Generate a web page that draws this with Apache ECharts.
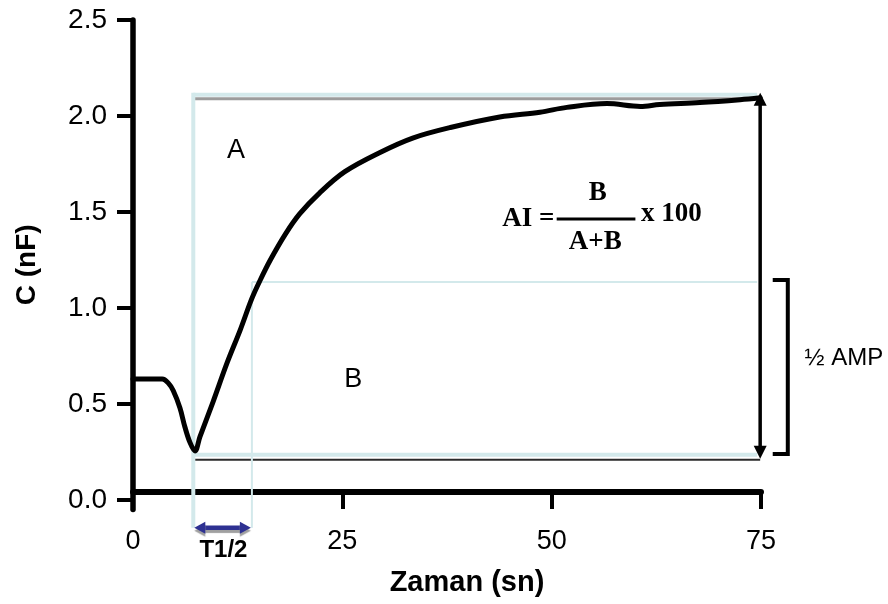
<!DOCTYPE html>
<html>
<head>
<meta charset="utf-8">
<script src="https://cdn.jsdelivr.net/npm/echarts@6/dist/echarts.min.js"></script>
<style>
html,body{margin:0;padding:0;background:#fff;}
#c{width:888px;height:604px;}
</style>
</head>
<body>
<div id="c"></div>
<script>
// ---- data ----
const timeSec = [0, 3.5, 4.2, 4.8, 5.6, 6.2, 6.8, 7.4, 8.0, 9.55, 11.2, 12.8, 14.2, 15.2, 16.4, 18.2, 19.9, 22.3, 25.3, 29.5, 33.4, 37.9, 43.8, 48.6, 51.8, 56.6, 60.6, 62.9, 67.7, 72.5, 74.9];
const capacitanceNF = [0.63, 0.63, 0.61, 0.57, 0.48, 0.38, 0.30, 0.255, 0.33, 0.51, 0.71, 0.885, 1.05, 1.146, 1.25, 1.385, 1.49, 1.60, 1.71, 1.81, 1.885, 1.94, 1.995, 2.02, 2.045, 2.065, 2.05, 2.06, 2.07, 2.085, 2.095];
const xTickValues = [0, 25, 50, 75];
const yTickValues = [0, 0.5, 1.0, 1.5, 2.0, 2.5];
const yTickLabels = ['0.0', '0.5', '1.0', '1.5', '2.0', '2.5'];

// annotation levels (data units)
const plateauNF = 2.09;
const baselineNF = 0.21;
const halfAmpNF = 1.135;
const tRiseStart = 7.2;
const tHalf = 14.2;
const tEnd = 74.9;
const arrowLevelNF = -0.145;
const bracketT = [76.4, 78.2];
const bracketNF = [1.146, 0.24];

const FONT = '"Liberation Sans", Arial, sans-serif';
const SERIF = '"Liberation Serif", "Times New Roman", serif';
const LB = '#d3e9eb';

const chart = echarts.init(document.getElementById('c'));
chart.setOption({
  animation: false,
  backgroundColor: '#fff',
  grid: { left: 133, right: 127, top: 20, bottom: 94.4, containLabel: false },
  xAxis: {
    type: 'value', min: 0, max: 75, interval: 25,
    offset: -17.6,
    axisLine: { onZero: false, lineStyle: { color: '#000', width: 6 } },
    axisTick: { length: 17, lineStyle: { color: '#000', width: 4 } },
    axisLabel: { margin: 36, fontSize: 27, color: '#000', fontFamily: FONT,
      formatter: v => xTickValues.includes(v) ? String(v) : '' },
    splitLine: { show: false },
    name: 'Zaman (sn)', nameLocation: 'middle', nameGap: 76,
    nameTextStyle: { fontSize: 29, fontWeight: 'bold', color: '#000', fontFamily: FONT, padding: [0, 0, 0, 40] }
  },
  yAxis: {
    type: 'value', min: -0.05, max: 2.5,
    axisLine: { show: true, onZero: false, lineStyle: { color: '#000', width: 5.5 } },
    axisTick: { show: true, length: 16, customValues: yTickValues, lineStyle: { color: '#000', width: 4 } },
    axisLabel: { show: true, customValues: yTickValues, margin: 26, fontSize: 28, color: '#000', fontFamily: FONT,
      formatter: v => { const i = yTickValues.findIndex(t => Math.abs(t - v) < 1e-6); return i >= 0 ? yTickLabels[i] : ''; } },
    splitLine: { show: false },
    name: 'C (nF)', nameLocation: 'middle', nameRotate: 90, nameGap: 92,
    nameTextStyle: { fontSize: 28, fontWeight: 'bold', color: '#000', fontFamily: FONT }
  },
  series: [{
    type: 'line',
    data: timeSec.map((t, i) => [t, capacitanceNF[i]]),
    showSymbol: false,
    smooth: 0.35,
    z: 5,
    lineStyle: { color: '#000', width: 5, join: 'round', cap: 'round' }
  }]
});

function P(t, v) { return chart.convertToPixel({ gridIndex: 0 }, [t, v]); }
function X(t) { return P(t, 0)[0]; }
function Y(v) { return P(0, v)[1]; }

const xs = X(tRiseStart), xh = X(tHalf), xe = X(tEnd);
const yp = Y(plateauNF), yb = Y(baselineNF), yh = Y(halfAmpNF), ya = Y(arrowLevelNF);

function line(x1, y1, x2, y2, color, width, extra) {
  return Object.assign({ type: 'line', z: 1, shape: { x1, y1, x2, y2 }, style: { stroke: color, lineWidth: width } }, extra || {});
}
function text(t, x, y, font, extra) {
  return { type: 'text', z: 10, x, y, style: Object.assign({ text: t, font, fill: '#000', align: 'center', verticalAlign: 'middle' }, extra || {}) };
}

const g = [];
// box lines
g.push(line(xs, yp - 4, xe - 3, yp - 4, LB, 4));
g.push(line(xs, yp, xe - 3, yp, '#9c9c9c', 3));
g.push(line(xs, yp - 6, xs, ya, LB, 4));
g.push(line(xs, yb - 5, xe - 3, yb - 5, LB, 4));
g.push(line(xs + 2, yb, xe, yb, '#2a2a2a', 2));
// half amplitude lines
g.push(line(xh, yh, xe - 3, yh, LB, 2));
g.push(line(xh, yh, xh, ya, LB, 2));
// amplitude arrow
g.push(line(xe, yp - 6 + 10, xe, yb - 10, '#000', 3.5, { z: 6 }));
g.push({ type: 'polygon', z: 6, shape: { points: [[xe, yp - 6], [xe - 6.5, yp + 7], [xe + 6.5, yp + 7]] }, style: { fill: '#000' } });
g.push({ type: 'polygon', z: 6, shape: { points: [[xe, yb - 1], [xe - 6.5, yb - 14], [xe + 6.5, yb - 14]] }, style: { fill: '#000' } });
// T1/2 arrow
const arrowShadow = { shadowColor: '#a0a0a0', shadowOffsetY: 3, shadowBlur: 1 };
g.push(line(xs + 8, ya, xh - 8, ya, '#2e3192', 4.5, { z: 6, style: Object.assign({ stroke: '#2e3192', lineWidth: 4.5 }, arrowShadow) }));
g.push({ type: 'polygon', z: 6, shape: { points: [[xs + 1, ya], [xs + 12, ya - 6], [xs + 12, ya + 6]] }, style: Object.assign({ fill: '#2e3192' }, arrowShadow) });
g.push({ type: 'polygon', z: 6, shape: { points: [[xh - 1, ya], [xh - 12, ya - 6], [xh - 12, ya + 6]] }, style: Object.assign({ fill: '#2e3192' }, arrowShadow) });
// bracket
g.push({ type: 'polyline', z: 6, shape: { points: [[X(bracketT[0]), Y(bracketNF[0])], [X(bracketT[1]), Y(bracketNF[0])], [X(bracketT[1]), Y(bracketNF[1])], [X(bracketT[0]), Y(bracketNF[1])]] },
  style: { stroke: '#000', lineWidth: 4, fill: null } });
// labels
g.push(text('A', X(12.3), Y(1.82), '27px ' + FONT));
g.push(text('B', X(26.3), Y(0.625), '27px ' + FONT));
g.push(text('T1/2', X(10.8), Y(-0.26), 'bold 24px ' + FONT));
g.push(text('½ AMP', X(84.9), Y(0.74), '24px ' + FONT));
// formula
g.push(text('AI =', X(47.2), Y(1.464), 'bold 27px ' + SERIF));
g.push(line(X(50.6), Y(1.464), X(60.0), Y(1.464), '#000', 3, { z: 10 }));
g.push(text('B', X(55.5), Y(1.60), 'bold 27px ' + SERIF));
g.push(text('A+B', X(55.2), Y(1.345), 'bold 27px ' + SERIF));
g.push(text('x 100', X(64.3), Y(1.49), 'bold 27px ' + SERIF));

chart.setOption({ graphic: { elements: g } });
</script>
</body>
</html>
